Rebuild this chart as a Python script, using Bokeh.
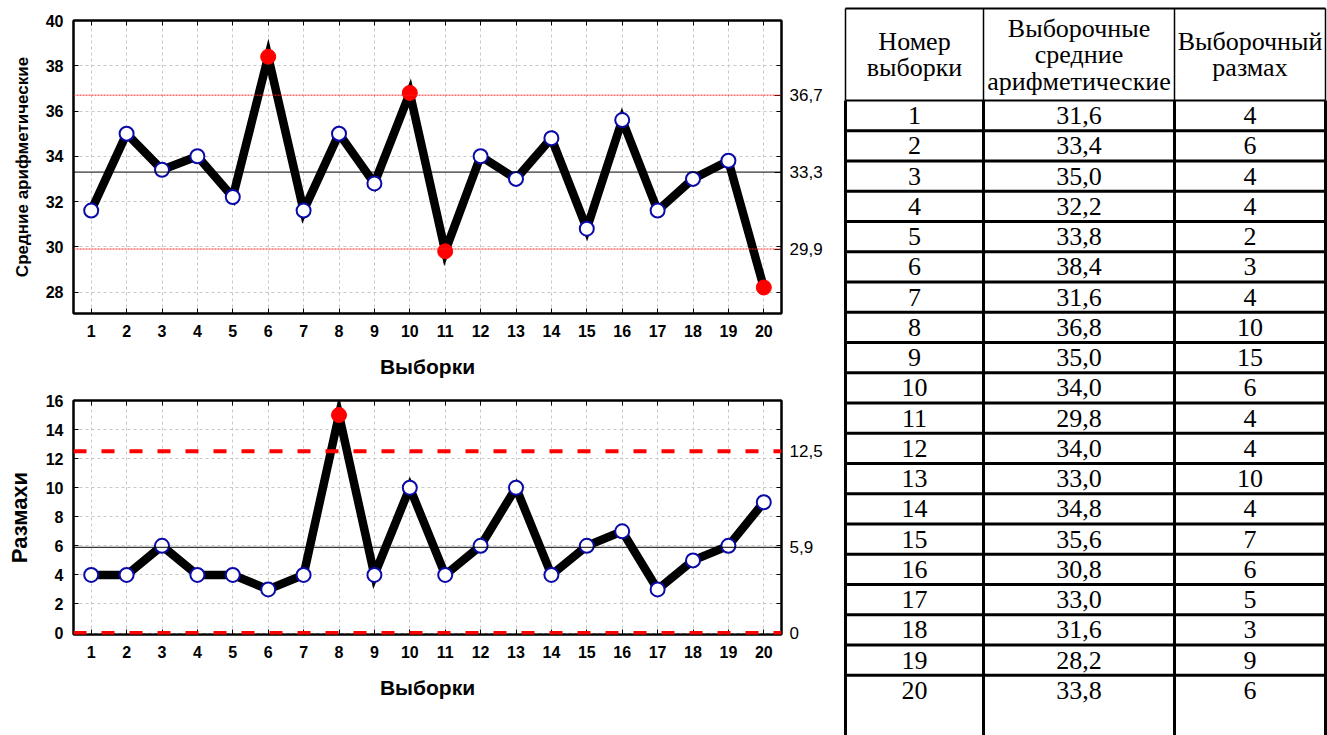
from bokeh.plotting import figure
from bokeh.models import Range1d, FixedTicker, LinearAxis, CustomJSTickFormatter, Span
from bokeh.layouts import row, column
from bokeh.embed import file_html
from bokeh.resources import INLINE
from bokeh.core.properties import value

# ---------------- data ----------------
samples = list(range(1, 21))
means = [31.6, 35.0, 33.4, 34.0, 32.2, 38.4, 31.6, 35.0, 32.8, 36.8,
         29.8, 34.0, 33.0, 34.8, 30.8, 35.6, 31.6, 33.0, 33.8, 28.2]
ranges = [4, 4, 6, 4, 4, 3, 4, 15, 4, 10, 4, 6, 10, 4, 6, 7, 3, 5, 6, 9]
mean_limits = [29.9, 33.3, 36.7]      # LCL, CL, UCL
range_limits = [0.0, 5.9, 12.5]       # LCL, CL, UCL
mean_yticks = [28, 30, 32, 34, 36, 38, 40]
range_yticks = [0, 2, 4, 6, 8, 10, 12, 14, 16]

table_header = [["Номер", "выборки"],
                ["Выборочные", "средние", "арифметические"],
                ["Выборочный", "размах"]]
table_numbers = [str(i) for i in range(1, 21)]
table_means = ["31,6", "33,4", "35,0", "32,2", "33,8", "38,4", "31,6", "36,8", "35,0", "34,0",
               "29,8", "34,0", "33,0", "34,8", "35,6", "30,8", "33,0", "31,6", "28,2", "33,8"]
table_ranges = ["4", "6", "4", "4", "2", "3", "4", "10", "15", "6",
                "4", "4", "10", "4", "7", "6", "5", "3", "9", "6"]

SANS = "Liberation Sans"
SERIF = "Liberation Serif"
BLUE = "#0a0aa8"
RED = "#ff0000"


def control_chart(values, limits, yticks, y_range, width, height, borders,
                  ylabel, ylabel_size, limit_kind, right_fmt):
    left, right, top, bottom = borders
    p = figure(width=width, height=height, output_backend="svg", toolbar_location=None,
               x_range=Range1d(0.5, 20.5), y_range=Range1d(*y_range),
               min_border_left=left, min_border_right=right,
               min_border_top=top, min_border_bottom=bottom,
               outline_line_color="black", outline_line_width=2,
               background_fill_color="white", border_fill_color="white")
    # grid
    p.xgrid.ticker = FixedTicker(ticks=samples)
    p.ygrid.ticker = FixedTicker(ticks=yticks)
    for g in (p.xgrid, p.ygrid):
        g.grid_line_color = "#c8c8c8"
        g.grid_line_dash = "3 3"
        g.grid_line_width = 1

    # axes
    xa = p.xaxis[0]
    xa.ticker = FixedTicker(ticks=samples)
    xa.axis_label = "Выборки"
    ya = p.yaxis[0]
    ya.ticker = FixedTicker(ticks=yticks)
    ya.axis_label = ylabel
    for ax in (xa, ya):
        ax.axis_line_width = 2
        ax.major_tick_in = 5
        ax.major_tick_out = 0
        ax.minor_tick_line_color = None
        ax.major_label_text_font = SANS
        ax.major_label_text_font_style = "bold"
        ax.major_label_text_font_size = "16px"
        ax.major_label_text_color = "black"
        ax.axis_label_text_font = SANS
        ax.axis_label_text_font_style = "bold"
        ax.axis_label_text_color = "black"
    xa.axis_label_text_font_size = "21px"
    xa.major_label_standoff = 11
    xa.axis_label_standoff = 15
    ya.axis_label_text_font_size = ylabel_size
    ya.major_label_standoff = 10
    ya.axis_label_standoff = 11

    top_axis = LinearAxis(ticker=FixedTicker(ticks=samples),
                          formatter=CustomJSTickFormatter(code="return '';"),
                          major_tick_in=5, major_tick_out=0, major_label_standoff=0,
                          minor_tick_line_color=None, axis_line_width=2)
    p.add_layout(top_axis, "above")

    right_axis = LinearAxis(ticker=FixedTicker(ticks=limits, minor_ticks=yticks),
                            formatter=CustomJSTickFormatter(code=right_fmt),
                            major_tick_in=7, major_tick_out=0,
                            minor_tick_in=5, minor_tick_out=0,
                            minor_tick_line_color="black",
                            axis_line_width=2, major_label_standoff=8,
                            major_label_text_font=SANS, major_label_text_font_size="17px",
                            major_label_text_color="black")
    p.add_layout(right_axis, "right")

    lcl, cl, ucl = limits
    if limit_kind == "thin":
        for loc in (lcl, ucl):
            p.add_layout(Span(location=loc, dimension="width", line_color="#ff2020",
                              line_width=1, line_dash="2 1"))
    else:
        for loc in (lcl, ucl):
            p.add_layout(Span(location=loc, dimension="width", line_color=RED,
                              line_width=4, line_dash="13 15"))
    p.add_layout(Span(location=cl, dimension="width", line_color="black", line_width=1))

    # data line and markers
    p.line(samples, values, line_color="black", line_width=8.5, line_join="miter")
    out_x = [s for s, v in zip(samples, values) if v > ucl or v < lcl]
    out_y = [v for v in values if v > ucl or v < lcl]
    in_x = [s for s, v in zip(samples, values) if not (v > ucl or v < lcl)]
    in_y = [v for v in values if not (v > ucl or v < lcl)]
    p.scatter(in_x, in_y, marker="circle", size=14, fill_color="white",
              line_color=BLUE, line_width=2)
    p.scatter(out_x, out_y, marker="circle", size=15, fill_color=RED,
              line_color=RED, line_width=1)
    return p


top = control_chart(means, mean_limits, mean_yticks, (27.05, 40), 843, 380,
                    (73, 62, 20, 67), "Средние арифметические", "17px", "thin",
                    "return tick.toFixed(1).replace('.', ',');")
bottom = control_chart(ranges, range_limits, range_yticks, (-0.1, 16), 843, 355,
                       (67, 51, 20, 101), "Размахи", "22px", "thick",
                       "return tick === 0 ? '0' : tick.toFixed(1).replace('.', ',');")

# ---------------- table ----------------
TW, TH = 484, 735
t = figure(width=TW, height=TH, output_backend="svg", toolbar_location=None,
           x_range=Range1d(0, TW), y_range=Range1d(TH, 0),
           x_axis_type=None, y_axis_type=None,
           min_border=0, outline_line_color=None,
           background_fill_color="white", border_fill_color="white")
t.xgrid.visible = False
t.ygrid.visible = False

col_edges = [2, 140, 331, 482]
table_top = 8
header_h = 100
row_h = 30.25
n_rows = len(table_numbers)

# header lines (thin)
t.segment(x0=[col_edges[0]], y0=[table_top], x1=[col_edges[-1]], y1=[table_top],
          line_color="black", line_width=2)
t.segment(x0=col_edges, y0=[table_top] * 4, x1=col_edges, y1=[header_h] * 4,
          line_color="black", line_width=1.5)
t.segment(x0=[col_edges[0]], y0=[header_h], x1=[col_edges[-1]], y1=[header_h],
          line_color="black", line_width=2)
# body lines (thick)
t.segment(x0=col_edges, y0=[header_h] * 4, x1=col_edges, y1=[TH] * 4, line_color="black", line_width=3)
row_lines = [header_h + k * row_h for k in range(1, n_rows)]
t.segment(x0=[col_edges[0]] * len(row_lines), y0=row_lines,
          x1=[col_edges[-1]] * len(row_lines), y1=row_lines, line_color="black", line_width=3)

# header texts
hx, hy, ht = [], [], []
for ci, lines in enumerate(table_header):
    cx = (col_edges[ci] + col_edges[ci + 1]) / 2
    n = len(lines)
    for li, txt in enumerate(lines):
        hx.append(cx)
        hy.append((table_top + header_h) / 2 + (li - (n - 1) / 2) * 26.5)
        ht.append(txt)
t.text(x=hx, y=hy, text=ht, text_align="center", text_baseline="middle",
       text_font=value(SERIF), text_font_size="26px", text_color="black")

# body texts
bx, by, bt = [], [], []
for ci, col in enumerate([table_numbers, table_means, table_ranges]):
    cx = (col_edges[ci] + col_edges[ci + 1]) / 2
    for ri, txt in enumerate(col):
        bx.append(cx)
        by.append(header_h + (ri + 0.5) * row_h)
        bt.append(txt)
t.text(x=bx, y=by, text=bt, text_align="center", text_baseline="middle",
       text_font=value(SERIF), text_font_size="26px", text_color="black")

layout = row(column(top, bottom), t)
open("out.html", "w").write(file_html(layout, INLINE))
